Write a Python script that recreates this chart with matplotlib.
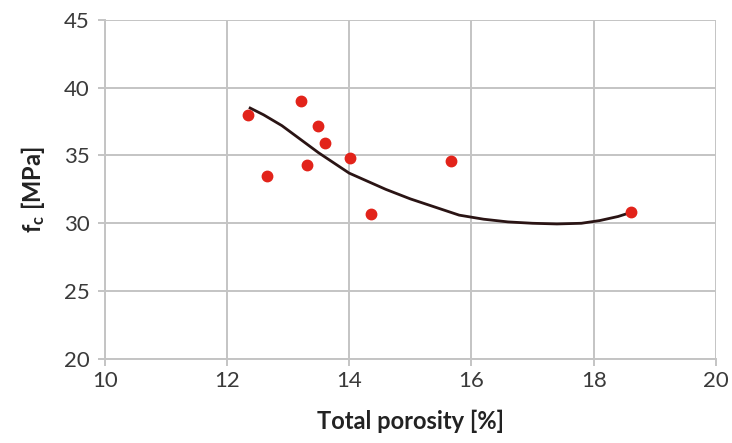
import matplotlib
matplotlib.use("Agg")
import matplotlib.pyplot as plt

# measured points
porosity = [12.34, 12.66, 13.21, 13.49, 13.61, 13.31, 14.02, 14.36, 15.67, 18.61]
fc = [38.0, 33.5, 39.0, 37.2, 35.9, 34.3, 34.8, 30.7, 34.6, 30.8]

# trend line
trend_x = [12.38, 12.6, 12.9, 13.2, 13.5, 13.8, 14.0, 14.3, 14.6, 15.0, 15.4, 15.8,
           16.2, 16.6, 17.0, 17.4, 17.8, 18.1, 18.4, 18.61]
trend_y = [38.5, 38.0, 37.2, 36.2, 35.2, 34.3, 33.7, 33.1, 32.5, 31.8, 31.2, 30.6,
           30.3, 30.1, 30.0, 29.95, 30.0, 30.2, 30.5, 30.8]

xticks = [10, 12, 14, 16, 18, 20]
yticks = [20, 25, 30, 35, 40, 45]

plt.rcParams['font.family'] = ['Lato', 'DejaVu Sans']
plt.rcParams['mathtext.fontset'] = 'custom'
plt.rcParams['mathtext.rm'] = 'Lato:bold'
plt.rcParams['mathtext.bf'] = 'Lato:bold'
plt.rcParams['mathtext.it'] = 'Lato:bold'

fig = plt.figure(figsize=(7.32, 4.43), dpi=100)
ax = fig.add_axes([0.143, 0.19, 0.835, 0.765])

grid_col = '#c4c4c4'
ax.plot(trend_x, trend_y, color='#2a1414', lw=2.0, zorder=3)
ax.plot(porosity, fc, 'o', color='#e2231a', markersize=7.5, zorder=4)

ax.set_xlim(10, 20)
ax.set_ylim(20, 45)
ax.set_xticks(xticks)
ax.set_yticks(yticks)
ax.grid(True, color=grid_col, lw=1.4)
ax.set_axisbelow(True)
for side in ['top', 'right']:
    ax.spines[side].set_visible(False)
for side in ['left', 'bottom']:
    ax.spines[side].set_color(grid_col)
    ax.spines[side].set_linewidth(1.4)
ax.tick_params(colors=grid_col, labelcolor='#3a3a3a', labelsize=16, length=5, width=1.4)
ax.tick_params(axis='y', pad=6)

ax.set_xlabel('Total porosity [%]', fontsize=17, fontweight='bold', color='#222222', labelpad=14)
ax.set_ylabel(r'$\mathbf{f_c}$ [MPa]', fontsize=17, fontweight='bold', color='#222222', labelpad=12)

fig.savefig('out.png', dpi=100)
